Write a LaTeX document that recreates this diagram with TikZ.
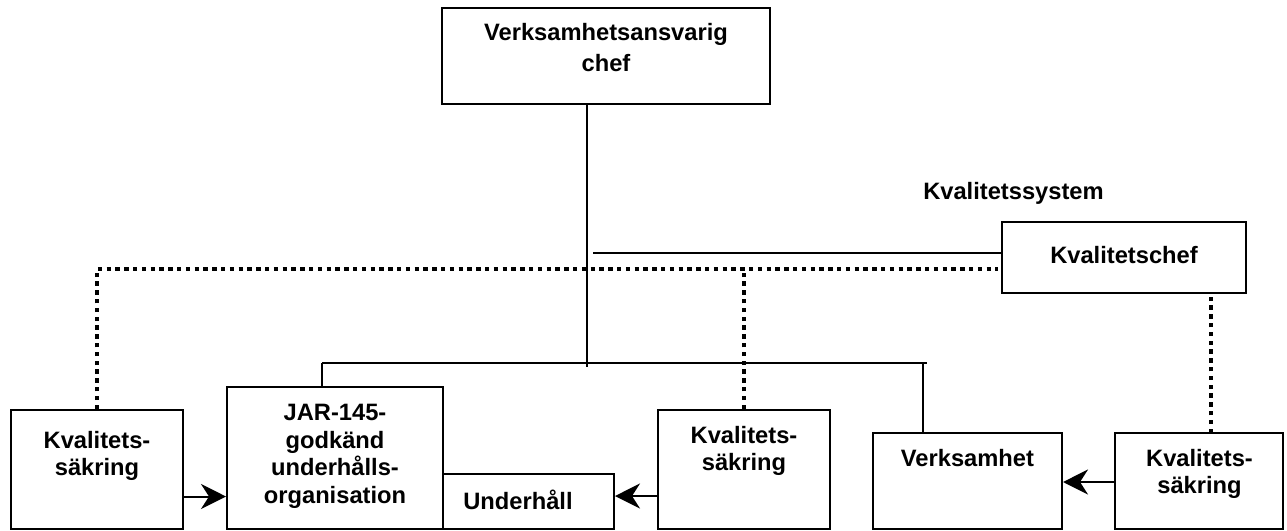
\documentclass[tikz,border=0pt]{standalone}
\usepackage{fontspec}
\setmainfont{Liberation Sans}
\usetikzlibrary{arrows.meta,calc}
\begin{document}
\begin{tikzpicture}[x=1pt,y=-1pt,
  box/.style={draw=black, line width=2pt, minimum width=#1, inner sep=0pt},
  txt/.style={font=\fontsize{23.7}{27.5}\selectfont\bfseries, align=center, inner sep=0pt},
  solid line/.style={line width=2pt},
  dotline/.style={line width=4pt, dash pattern=on 4.4pt off 4.4pt},
  arr/.style={line width=2pt, -{Stealth[length=25pt, width=25pt, inset=8pt]}}]
\useasboundingbox (0,0) rectangle (1287,530);
% boxes
\node[box=328pt, minimum height=96pt] (vac) at (606,56) {};
\node[txt, font=\fontsize{23.7}{31.7}\selectfont\bfseries] at (606,47.5) {Verksamhetsansvarig\\chef};
\node[box=244pt, minimum height=71pt] (kc) at (1124,257.5) {};
\node[txt] at (1124,255) {Kvalitetschef};
\node[txt] (ksys) at (1013.5,193) {Kvalitetssystem};
\node[box=172pt, minimum height=119pt] (ks1) at (97,469.5) {};
\node[txt] at (97,456) {Kvalitets-\\säkring};
\node[box=216pt, minimum height=142pt] (jar) at (335,458) {};
\node[txt] at (335,456.5) {JAR-145-\\godkänd\\underhålls-\\organisation};
\node[box=171pt, minimum height=55pt] (uh) at (528.5,501.5) {};
\node[txt] at (518,500) {Underhåll};
\node[box=172pt, minimum height=119pt] (ks2) at (744,469.5) {};
\node[txt] at (744,451) {Kvalitets-\\säkring};
\node[box=189pt, minimum height=96pt] (verk) at (967.5,481) {};
\node[txt] at (967.5,458) {Verksamhet};
\node[box=168pt, minimum height=96pt] (ks3) at (1199,481) {};
\node[txt] at (1199.5,474) {Kvalitets-\\säkring};
% coordinates
\coordinate (v1) at (587,104);
\coordinate (v2) at (587,367);
\coordinate (s1) at (593,253);
\coordinate (busL) at (322,363);
\coordinate (busR) at (927,363);
\coordinate (busV) at (923,363);
\coordinate (dl) at (998,269);
\coordinate (dr) at (1211,433);
% solid connectors
\draw[solid line] (v1) -- (v2);
\draw[solid line] (s1) -- (s1 -| kc.west);
\draw[solid line] (busL) -- (busR);
\draw[solid line] (busL) -- (busL |- jar.north);
\draw[solid line] (busV) -- (busV |- verk.north);
% dotted connectors
\draw[dotline] (ks1.north) |- (dl);
\draw[dotline] (ks2.north) -- (ks2.north |- dl);
\draw[dotline] (dr) -- (dr |- kc.south);
% arrows
\coordinate (a1) at ([yshift=-27pt]ks1.east);
\draw[arr] (a1) -- (a1 -| jar.west);
\coordinate (a2) at ([yshift=-26.5pt]ks2.west);
\draw[arr] (a2) -- (a2 -| uh.east);
\coordinate (a3) at ([yshift=-1pt]ks3.west);
\draw[arr] (a3) -- (a3 -| verk.east);
\end{tikzpicture}
\end{document}
